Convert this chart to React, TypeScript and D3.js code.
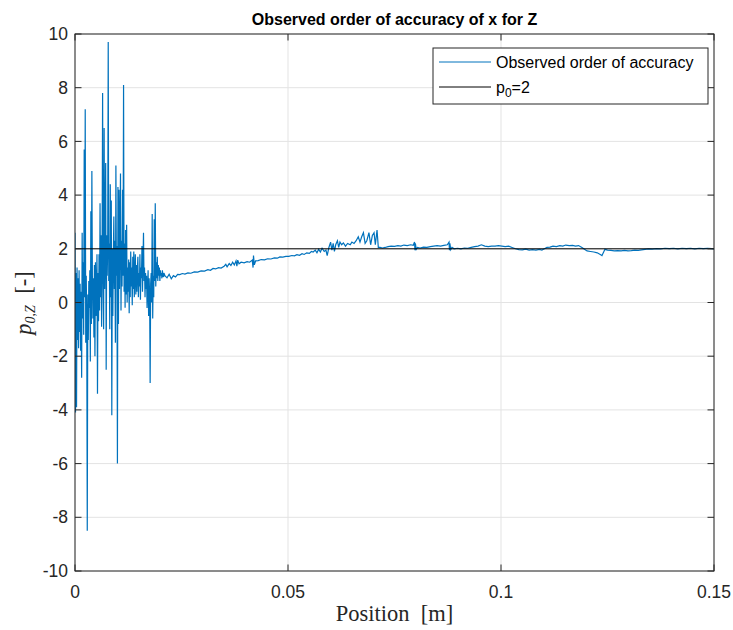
import React from "react";
import * as d3 from "d3";

// early, strongly oscillating part, sampled every earlySpacing metres from x = 0
const earlySpacing = 0.00012;
const earlyValues = [
  2.6, -4.1, 1.1, -3.9, 1.3, -1.4, 0.9, -1.7, 1.2, -1.1,
  0.7, -1.8, 0.4, -2.8, 2.6, -0.6, 1.5, -1.2, 5.7, 0.2,
  7.2, -1.5, 1.0, -0.8, -8.5, 0.3, -1.4, 0.8, -0.2, 1.2,
  -2.2, 3.4, -0.8, 4.9, 1.0, -0.6, 0.9, -1.3, 1.4, -2.0,
  1.5, -0.5, 0.5, 1.8, -3.4, 1.1, -0.7, 1.8, -0.3, 3.7,
  0.2, 2.5, -0.9, 1.7, 7.8, 0.7, -1.0, 6.5, 0.5, 2.6,
  5.2, -2.5, 2.5, 1.0, 2.2, 9.7, 0.8, 2.2, -1.0, 4.4,
  0.2, 3.8, -4.2, 2.0, -0.5, 1.8, 3.2, 0.5, 2.3, -1.5,
  5.1, 1.0, 2.1, -6.0, 4.3, -0.8, 4.2, 0.5, 2.7, 4.8,
  -0.3, 2.3, 0.6, 4.2, 1.0, 8.1, 0.4, 2.2, -0.2, 2.7,
  0.3, 2.9, 0.0, 1.3, 0.4, 1.6, -0.4, 1.5, 0.2, 1.9,
  0.6, 1.3, -0.1, 1.7, 0.5, 1.9, 0.2, 1.1, 1.8, 0.3,
  1.4, 0.4, 1.2, 1.7, 0.2, 1.1, 0.6, 1.8, 0.1, 1.3,
  0.9, 2.1, 0.4, 1.5, 2.6, 0.8, 1.3, 0.2, 1.1, 0.5,
  1.0, -0.2, 0.6, 1.2, -0.5, 0.9, 0.3, -3.0, 0.7, 1.1,
  0.0, 3.3, -0.6, 1.0, 0.2, 3.1, 0.8, 3.7, 0.6, 1.5,
  0.9, 1.7, 0.8, 1.4, 1.0, 1.3, 0.8, 1.2, 1.0, 1.1,
  0.9, 1.2, 0.95, 1.1, 1.0, 1.05,
];

// later, slowly converging part: [position (m), p]
const laterTrace: [number, number][] = [
  [0.0211, 1.0], [0.0216, 0.92], [0.0221, 1.05], [0.0226, 0.88], [0.0231, 1.0],
  [0.0236, 0.95], [0.0241, 1.05], [0.0246, 1.04], [0.0252, 1.08], [0.0258, 1.06],
  [0.0265, 1.1], [0.0272, 1.09], [0.028, 1.14], [0.0288, 1.13], [0.0296, 1.18],
  [0.0304, 1.17], [0.0312, 1.22], [0.0318, 1.2], [0.0324, 1.27], [0.033, 1.25],
  [0.0337, 1.3], [0.0343, 1.28], [0.035, 1.35], [0.0354, 1.42], [0.0357, 1.33],
  [0.0362, 1.45], [0.0366, 1.38], [0.037, 1.5], [0.0374, 1.4], [0.0378, 1.55],
  [0.038, 1.35], [0.0382, 1.58], [0.0385, 1.44], [0.039, 1.5], [0.0397, 1.48],
  [0.0404, 1.52], [0.041, 1.5], [0.0416, 1.58], [0.0418, 1.3], [0.0419, 1.75],
  [0.0421, 1.4], [0.0424, 1.55], [0.043, 1.56], [0.0437, 1.6], [0.0445, 1.59],
  [0.0452, 1.63], [0.046, 1.62], [0.0468, 1.66], [0.0475, 1.65], [0.0481, 1.7],
  [0.0488, 1.69], [0.0495, 1.72], [0.0502, 1.72], [0.0509, 1.75], [0.0515, 1.74],
  [0.0521, 1.78], [0.0527, 1.76], [0.0533, 1.82], [0.0538, 1.79], [0.0544, 1.85],
  [0.055, 1.83], [0.0555, 1.9], [0.0559, 1.88], [0.0564, 1.95], [0.0568, 1.85],
  [0.0572, 1.98], [0.0576, 1.88], [0.058, 2.02], [0.0585, 1.9], [0.0589, 1.95],
  [0.0592, 1.75], [0.0596, 2.05], [0.06, 2.25], [0.0603, 1.95], [0.0606, 2.2],
  [0.0609, 1.9], [0.0612, 2.15], [0.0616, 2.3], [0.0619, 2.05], [0.0622, 2.25],
  [0.0626, 2.15], [0.063, 2.22], [0.0635, 2.1], [0.064, 2.2], [0.0646, 2.15],
  [0.065, 2.25], [0.0655, 2.2], [0.066, 2.3], [0.0665, 2.45], [0.0669, 2.25],
  [0.0673, 2.45], [0.0677, 2.6], [0.0681, 2.2], [0.0685, 2.3], [0.069, 2.6],
  [0.0694, 2.15], [0.0698, 2.5], [0.0702, 2.6], [0.0705, 2.15], [0.0709, 2.7],
  [0.0712, 2.05], [0.0716, 2.05], [0.0722, 2.03], [0.0728, 2.05], [0.0735, 2.08],
  [0.0742, 2.1], [0.075, 2.09], [0.0758, 2.12], [0.0765, 2.1], [0.0772, 2.14],
  [0.078, 2.12], [0.0788, 2.15], [0.0794, 2.13], [0.0797, 2.25], [0.0798, 1.95],
  [0.0799, 2.2], [0.0801, 1.98], [0.0804, 2.05], [0.081, 2.03], [0.0818, 2.06],
  [0.0826, 2.05], [0.0834, 2.08], [0.0842, 2.1], [0.085, 2.12], [0.0858, 2.1],
  [0.0866, 2.13], [0.0874, 2.15], [0.0878, 2.25], [0.0879, 1.95], [0.088, 2.2],
  [0.0882, 1.97], [0.0885, 2.05], [0.089, 2.0], [0.0898, 2.02], [0.0906, 2.0],
  [0.0914, 2.03], [0.0922, 2.02], [0.093, 2.05], [0.0938, 2.08], [0.0946, 2.1],
  [0.0954, 2.15], [0.0962, 2.1], [0.097, 2.08], [0.0978, 2.1], [0.0986, 2.1],
  [0.0994, 2.12], [0.1002, 2.1], [0.101, 2.08], [0.1018, 2.1], [0.1026, 2.05],
  [0.1034, 2.0], [0.1042, 1.97], [0.105, 1.96], [0.1058, 1.99], [0.1066, 1.95],
  [0.1074, 1.97], [0.1082, 1.95], [0.109, 1.98], [0.1096, 1.95], [0.1102, 2.0],
  [0.1108, 2.05], [0.1115, 2.06], [0.1122, 2.1], [0.113, 2.08], [0.1138, 2.12],
  [0.1145, 2.1], [0.1152, 2.14], [0.116, 2.12], [0.1168, 2.13], [0.1175, 2.1],
  [0.1182, 2.12], [0.119, 2.05], [0.1196, 1.98], [0.1202, 1.92], [0.121, 1.9],
  [0.1218, 1.88], [0.1226, 1.85], [0.1234, 1.78], [0.1237, 1.75], [0.1241, 1.88],
  [0.1244, 1.98], [0.125, 1.95], [0.1258, 1.94], [0.1266, 1.92], [0.1274, 1.93],
  [0.1282, 1.92], [0.129, 1.94], [0.1298, 1.92], [0.1306, 1.93], [0.1314, 1.95],
  [0.1322, 1.94], [0.133, 1.96], [0.1338, 1.98], [0.1346, 2.0], [0.1355, 1.99],
  [0.1365, 2.01], [0.1375, 2.0], [0.1385, 2.02], [0.1395, 2.01], [0.1405, 2.02],
  [0.1415, 2.0], [0.1425, 2.02], [0.1435, 2.01], [0.1445, 2.02], [0.1455, 2.0],
  [0.1465, 2.02], [0.1475, 2.01], [0.1485, 2.02], [0.1495, 2.01], [0.15, 2.0],
];

const theoreticalOrder = 2;
const xTicks = [0, 0.05, 0.1, 0.15];
const xTickLabels = ["0", "0.05", "0.1", "0.15"];
const yTicks = [-10, -8, -6, -4, -2, 0, 2, 4, 6, 8, 10];

const W = 733;
const H = 630;
const margin = { top: 34, right: 19, bottom: 59, left: 75 };
const axisColor = "#262626";
const gridColor = "#e3e3e3";
const lineBlue = "#0072BD";
const sans = "'Liberation Sans', Arial, Helvetica, sans-serif";
const serif = "'Liberation Serif', 'Times New Roman', serif";

export default function App() {
  const x = d3.scaleLinear().domain([0, 0.15]).range([margin.left, W - margin.right]);
  const y = d3.scaleLinear().domain([-10, 10]).range([H - margin.bottom, margin.top]);

  const series: [number, number][] = [
    ...earlyValues.map((v, i) => [i * earlySpacing, v] as [number, number]),
    ...laterTrace,
  ];

  const line = d3
    .line<[number, number]>()
    .x((d) => x(d[0]))
    .y((d) => y(d[1]));

  const x0 = x.range()[0];
  const x1 = x.range()[1];
  const y0 = y.range()[0];
  const y1 = y.range()[1];
  const tick = 6.5;

  // legend box
  const lg = { left: 433, top: 48, right: 708, bottom: 104 };

  return (
    <svg
      width={W}
      height={H}
      style={{ position: "absolute", left: 0, top: 0, background: "#fff" }}
    >
      <rect x={0} y={0} width={W} height={H} fill="#fff" />
      <rect x={x0} y={y1} width={x1 - x0} height={y0 - y1} fill="#fff" />

      {/* grid */}
      {xTicks.map((t) => (
        <line key={"gx" + t} x1={x(t)} x2={x(t)} y1={y1} y2={y0} stroke={gridColor} strokeWidth={1} />
      ))}
      {yTicks.map((t) => (
        <line key={"gy" + t} x1={x0} x2={x1} y1={y(t)} y2={y(t)} stroke={gridColor} strokeWidth={1} />
      ))}

      <defs>
        <clipPath id="plotClip">
          <rect x={x0} y={y1} width={x1 - x0} height={y0 - y1} />
        </clipPath>
      </defs>

      <g clipPath="url(#plotClip)">
        <path d={line(series) ?? ""} fill="none" stroke={lineBlue} strokeWidth={1.2} strokeLinejoin="miter" />
        <line
          x1={x0}
          x2={x1}
          y1={y(theoreticalOrder)}
          y2={y(theoreticalOrder)}
          stroke="#000"
          strokeWidth={1}
        />
      </g>

      {/* box and ticks */}
      <rect x={x0} y={y1} width={x1 - x0} height={y0 - y1} fill="none" stroke={axisColor} strokeWidth={1} />
      {xTicks.map((t) => (
        <g key={"tx" + t}>
          <line x1={x(t)} x2={x(t)} y1={y0} y2={y0 - tick} stroke={axisColor} />
          <line x1={x(t)} x2={x(t)} y1={y1} y2={y1 + tick} stroke={axisColor} />
        </g>
      ))}
      {yTicks.map((t) => (
        <g key={"ty" + t}>
          <line x1={x0} x2={x0 + tick} y1={y(t)} y2={y(t)} stroke={axisColor} />
          <line x1={x1} x2={x1 - tick} y1={y(t)} y2={y(t)} stroke={axisColor} />
        </g>
      ))}

      {/* tick labels */}
      {xTicks.map((t, i) => (
        <text
          key={"lx" + t}
          x={x(t)}
          y={y0 + 27}
          textAnchor="middle"
          fontFamily={sans}
          fontSize={17.5}
          fill={axisColor}
        >
          {xTickLabels[i]}
        </text>
      ))}
      {yTicks.map((t) => (
        <text
          key={"ly" + t}
          x={x0 - 7}
          y={y(t)}
          dy="0.35em"
          textAnchor="end"
          fontFamily={sans}
          fontSize={17.5}
          fill={axisColor}
        >
          {t}
        </text>
      ))}

      {/* title */}
      <text
        x={(x0 + x1) / 2}
        y={25}
        textAnchor="middle"
        fontFamily={sans}
        fontWeight="bold"
        fontSize={16}
        fill="#000"
      >
        Observed order of accuracy of x for Z
      </text>

      {/* axis labels */}
      <text
        x={(x0 + x1) / 2}
        y={621}
        textAnchor="middle"
        fontFamily={serif}
        fontSize={22.5}
        fill={axisColor}
        xmlSpace="preserve"
      >
        Position  [m]
      </text>
      <text
        transform={`translate(31, ${303}) rotate(-90)`}
        textAnchor="middle"
        fontFamily={serif}
        fontSize={22.5}
        fill={axisColor}
        xmlSpace="preserve"
      >
        <tspan fontStyle="italic">p</tspan>
        <tspan fontStyle="italic" fontSize={14} dy={4}>0,Z</tspan>
        <tspan dy={-4}>{"  [-]"}</tspan>
      </text>

      {/* legend */}
      <rect
        x={lg.left}
        y={lg.top}
        width={lg.right - lg.left}
        height={lg.bottom - lg.top}
        fill="#fff"
        stroke={axisColor}
        strokeWidth={1}
      />
      <line x1={439} x2={491} y1={62} y2={62} stroke={lineBlue} strokeWidth={1} />
      <text x={496} y={68} fontFamily={sans} fontSize={16} fill="#000">
        Observed order of accuracy
      </text>
      <line x1={439} x2={491} y1={87} y2={87} stroke="#000" strokeWidth={1} />
      <text x={496} y={93} fontFamily={sans} fontSize={16} fill="#000">
        p<tspan fontSize={12} dy={4}>0</tspan>
        <tspan dy={-4}>=2</tspan>
      </text>
    </svg>
  );
}
